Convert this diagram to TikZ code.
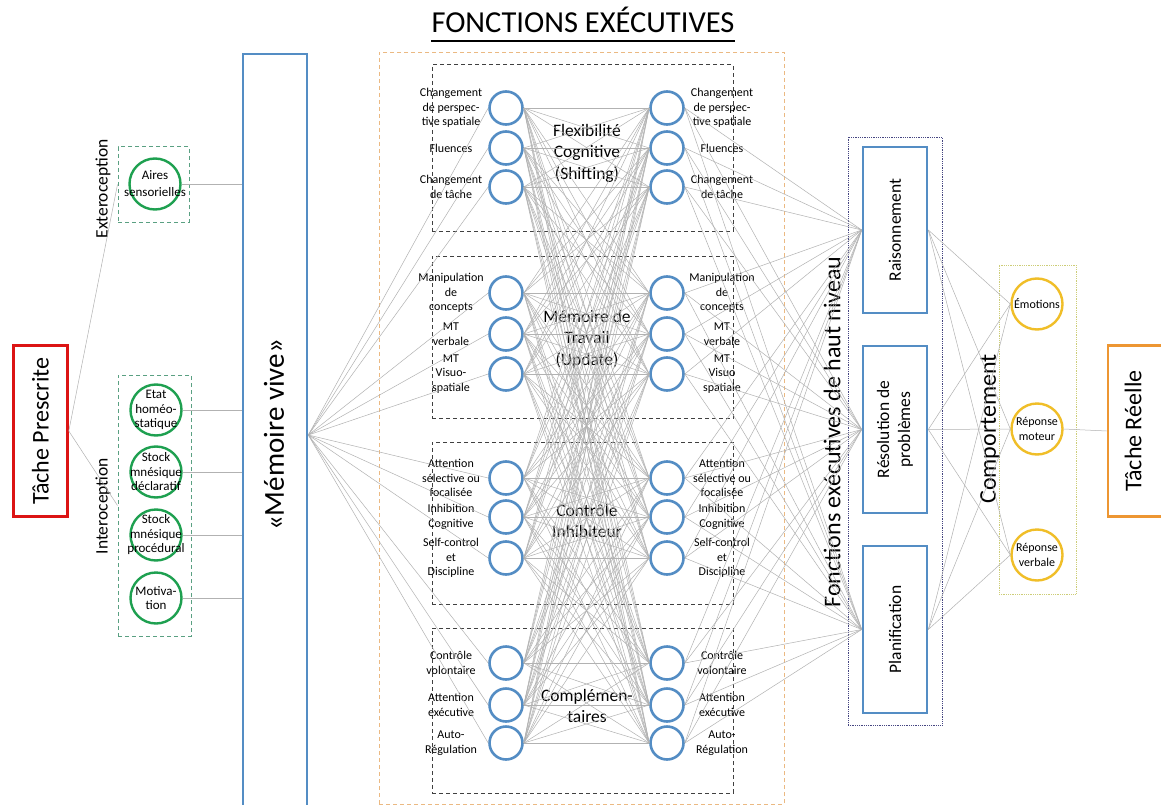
\documentclass[tikz,border=0pt]{standalone}
\usepackage{fontspec}
\setmainfont{Carlito}
\definecolor{cblue}{RGB}{84,141,196}
\definecolor{cgreen}{RGB}{30,160,80}
\definecolor{cred}{RGB}{220,20,20}
\definecolor{corange}{RGB}{237,150,50}
\definecolor{cyellow}{RGB}{240,190,40}
\definecolor{cline}{RGB}{178,178,178}
\definecolor{cobox}{RGB}{235,185,130}
\definecolor{cgbox}{RGB}{90,160,130}
\definecolor{cnavy}{RGB}{70,70,130}
\definecolor{cybox}{RGB}{205,205,120}
\begin{document}
\begin{tikzpicture}[x=1pt,y=-1pt,
  conn/.style={draw=cline, line width=0.5pt},
  bcirc/.style={circle, draw=cblue, line width=2.6pt, minimum size=33pt, inner sep=0pt},
  gcirc/.style={circle, draw=cgreen, line width=2.4pt, minimum size=51pt, inner sep=0pt},
  ycirc/.style={circle, draw=cyellow, line width=2.4pt, minimum size=51pt, inner sep=0pt},
  lab/.style={align=center, font=\fontsize{12}{14.5}\selectfont, inner sep=0pt},
  glab/.style={align=center, font=\fontsize{13}{14.5}\selectfont, inner sep=0pt},
  ctitle/.style={align=center, font=\fontsize{17.5}{21.5}\selectfont, inner sep=0pt},
  big/.style={font=\fontsize{24}{28}\selectfont, inner sep=0pt, rotate=90},
  mid/.style={font=\fontsize{17.5}{21}\selectfont, inner sep=0pt, rotate=90, align=center},
  innerbox/.style={draw=black!75, line width=1pt, dash pattern=on 4pt off 3pt, minimum width=301pt, inner sep=0pt},
  bluebox/.style={draw=cblue, line width=2.6pt, minimum width=64pt, inner sep=0pt},
  greenbox/.style={draw=cgbox, line width=1pt, dash pattern=on 4pt off 3pt, inner sep=0pt},
]
\useasboundingbox (0,0) rectangle (1161,805);
\fill[white] (0,0) rectangle (1161,805);
\clip (0,0) rectangle (1161,805);

% title
\node[anchor=base, inner sep=0pt, font=\fontsize{30.5}{35}\selectfont] (title) at (583,33) {FONCTIONS EXÉCUTIVES};
\draw[line width=1.6pt] ([yshift=-8pt]title.base west) -- ([yshift=-8pt]title.base east);

% frames
\node[draw=cobox, line width=0.9pt, dash pattern=on 4pt off 3pt, minimum width=405pt, minimum height=752pt, inner sep=0pt] (OB) at (581.5,428) {};
\node[innerbox, minimum height=166pt] (F1) at (582.5,148) {};
\node[innerbox, minimum height=162pt] (F2) at (582.5,337) {};
\node[innerbox, minimum height=162pt] (F3) at (582.5,523) {};
\node[innerbox, minimum height=165pt] (F4) at (582.5,710.5) {};

% left side
\node[draw=cred, line width=2.6pt, minimum width=54pt, minimum height=171pt, inner sep=0pt] (TP) at (40.5,431) {};
\node[big] (TPt) at (TP) {Tâche Prescrite};
\node[greenbox, minimum width=71pt, minimum height=75pt] (EB) at (153.5,184.5) {};
\node[greenbox, minimum width=73pt, minimum height=261pt] (IB) at (154.5,505.5) {};
\node[font=\fontsize{17.5}{21}\selectfont, inner sep=0pt, rotate=90] (Ext) at (103,189) {Exteroception};
\node[font=\fontsize{17.5}{21}\selectfont, inner sep=0pt, rotate=90] (Int) at (103,506) {Interoception};

\node[gcirc] (G1) at (155,184) {};
\node[gcirc] (G2) at (156,410) {};
\node[gcirc] (G3) at (156,472) {};
\node[gcirc] (G4) at (156,535) {};
\node[gcirc] (G5) at (156,598) {};
\node[glab, font=\fontsize{13}{17}\selectfont] (G1t) at (G1) {Aires\\sensorielles};
\node[glab] (G2t) at (G2) {Etat\\homéo-\\statique};
\node[glab] (G3t) at (G3) {Stock\\mnésique\\déclaratif};
\node[glab] (G4t) at (G4) {Stock\\mnésique\\procédural};
\node[glab] (G5t) at (G5) {Motiva-\\tion};

\node[draw=cblue, line width=2.6pt, minimum width=64pt, minimum height=762pt, inner sep=0pt] (mv) at (275,435) {};
\node[font=\fontsize{29}{34}\selectfont, inner sep=0pt, rotate=90] (mvt) at (274,435) {«Mémoire vive»};

% circles of the executive functions
\foreach \yy [count=\i] in {108,148,187,293,334,374,478,517,558,663,705,743}{
  \node[bcirc] (L\i) at (506,\yy) {};
  \node[bcirc] (R\i) at (667,\yy) {};
}
\foreach \t [count=\i] in {{Changement\\de perspec-\\tive spatiale},{Fluences},{Changement\\de tâche},
  {Manipulation\\de\\concepts},{MT\\verbale},{MT\\Visuo-\\spatiale},
  {Attention\\sélective ou\\focalisée},{Inhibition\\Cognitive},{Self-control\\et\\Discipline},
  {Contrôle\\volontaire},{Attention\\exécutive},{Auto-\\Régulation}}{
  \node[lab, xshift=-55pt] (LL\i) at (L\i) {\t};
}
\foreach \t [count=\i] in {{Changement\\de perspec-\\tive spatiale},{Fluences},{Changement\\de tâche},
  {Manipulation\\de\\concepts},{MT\\verbale},{MT\\Visuo\\spatiale},
  {Attention\\sélective ou\\focalisée},{Inhibition\\Cognitive},{Self-control\\et\\Discipline},
  {Contrôle\\volontaire},{Attention\\exécutive},{Auto-\\Régulation}}{
  \node[lab, xshift=55pt] (RL\i) at (R\i) {\t};
}
\node[ctitle] (T1) at (587,153) {Flexibilité\\Cognitive\\(Shifting)};
\node[ctitle] (T2) at (587,339) {Mémoire de\\Travail\\(Update)};
\node[ctitle] (T3) at (587,521) {Contrôle\\Inhibiteur};
\node[ctitle] (T4) at (587,706) {Complémen-\\taires};

% high level
\node[draw=cnavy, line width=0.8pt, densely dotted, minimum width=94pt, minimum height=588pt, inner sep=0pt] (HB) at (895,431) {};
\node[font=\fontsize{24}{28}\selectfont, inner sep=0pt, rotate=90] (HBt) at (832,432) {Fonctions exécutives de haut niveau};
\node[bluebox, minimum height=166pt] (B1) at (895,230) {};
\node[bluebox, minimum height=167pt] (B2) at (895,429.5) {};
\node[bluebox, minimum height=167pt] (B3) at (895,629.5) {};
\node[mid] (B1t) at (B1) {Raisonnement};
\node[mid] (B2t) at (B2) {Résolution de\\problèmes};
\node[mid] (B3t) at (B3) {Planification};

% behaviour
\node[draw=cybox, line width=0.8pt, densely dotted, minimum width=77pt, minimum height=329pt, inner sep=0pt] (YB) at (1037.5,429.5) {};
\node[font=\fontsize{24}{28}\selectfont, inner sep=0pt, rotate=90] (YBt) at (990,429) {Comportement};
\node[ycirc] (Y1) at (1037,304) {};
\node[ycirc] (Y2) at (1037,429) {};
\node[ycirc] (Y3) at (1037,555) {};
\node[lab] (Y1t) at (Y1) {Émotions};
\node[lab] (Y2t) at (Y2) {Réponse\\moteur};
\node[lab] (Y3t) at (Y3) {Réponse\\verbale};

\node[draw=corange, line width=2.6pt, minimum width=54pt, minimum height=171pt, inner sep=0pt] (TR) at (1135,431) {};
\node[big] (TRt) at (1133,431) {Tâche Réelle};

% connectors
\draw[conn] (TP.east) -- (EB.west);
\draw[conn] (TP.east) -- (IB.west);
\foreach \i in {1,...,5}{ \draw[conn] (G\i.east) -- (G\i.east -| mv.west); }
\foreach \i in {1,...,12}{
  \draw[conn] (mv.east) -- (L\i.west);
  \foreach \j in {1,...,12}{ \draw[conn] (L\i.east) -- (R\j.west); }
  \foreach \k in {1,2,3}{ \draw[conn] (R\i.east) -- (B\k.west); }
}
\foreach \k in {1,2,3}{
  \foreach \m in {1,2,3}{ \draw[conn] (B\k.east) -- (Y\m.west); }
}
\draw[conn] (Y2.east) -- (TR.west);
\end{tikzpicture}
\end{document}
